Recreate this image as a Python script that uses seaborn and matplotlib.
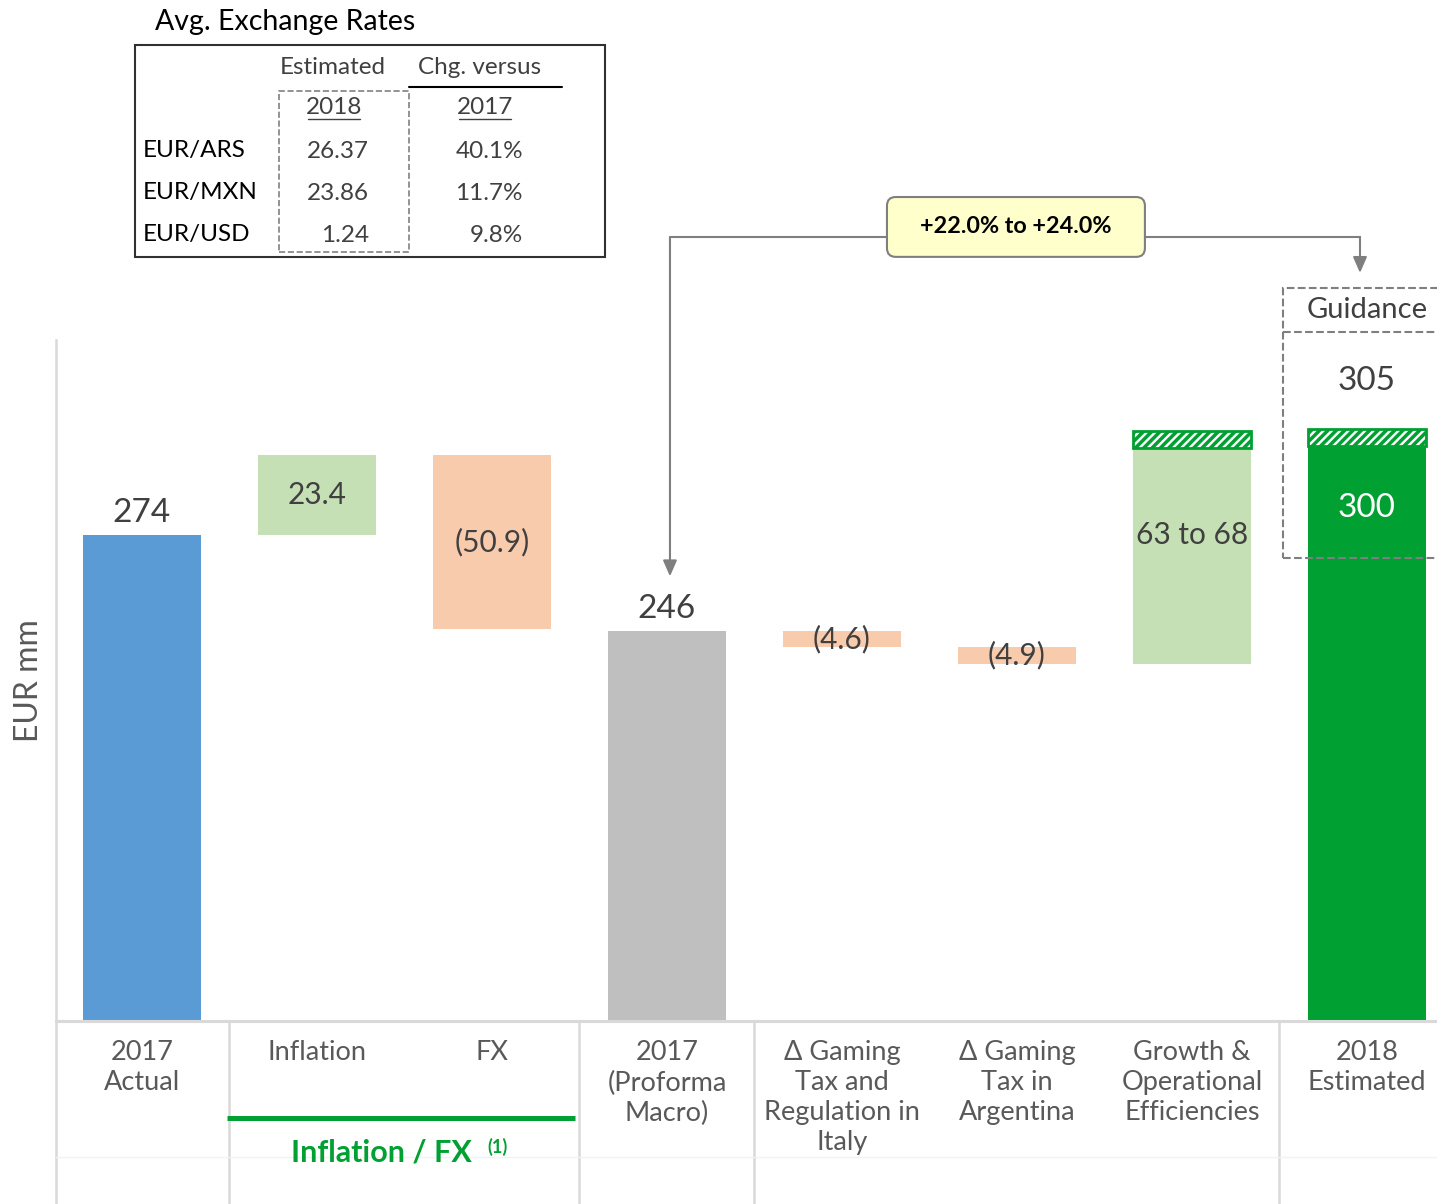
import numpy as np
import pandas as pd
import matplotlib.pyplot as plt
import matplotlib.patches as mpatches
from matplotlib.lines import Line2D
import seaborn as sns

#----------------------------------------------------------------------------------------------------------------
# data
#----------------------------------------------------------------------------------------------------------------
steps = ['2017\nActual', 'Inflation', 'FX', '2017\n(Proforma\nMacro)',
         'Δ Gaming\nTax and\nRegulation in\nItaly', 'Δ Gaming\nTax in\nArgentina',
         'Growth &\nOperational\nEfficiencies', '2018\nEstimated']
kinds = ['total', 'delta', 'delta', 'total', 'delta', 'delta', 'delta', 'total']
values = [274, 23.4, -50.9, 246, -4.6, -4.9, 63, 300]
upper = [np.nan, np.nan, np.nan, np.nan, np.nan, np.nan, 68, 305]   # top of guidance range
labels = ['274', '23.4', '(50.9)', '246', '(4.6)', '(4.9)', '63 to 68', '300']
bar_colors = ['#5B9BD5', '#C5E0B4', '#F8CBAD', '#BFBFBF',
              '#F8CBAD', '#F8CBAD', '#C5E0B4', '#00A032']
growth_label = '+22.0% to +24.0%'

fx_pairs = ['EUR/ARS', 'EUR/MXN', 'EUR/USD']
fx_2018 = ['26.37', '23.86', '1.24']
fx_chg = ['40.1%', '11.7%', '9.8%']

#----------------------------------------------------------------------------------------------------------------
sns.set_theme(style='white')
plt.rcParams['font.family'] = ['Lato', 'DejaVu Sans']
plt.rcParams['hatch.linewidth'] = 2.5

GREEN = '#00A032'
GRAY_TXT = '#595959'
DARK_TXT = '#404040'
LINE_GRAY = '#7F7F7F'
GRID_GRAY = '#D9D9D9'

W, H = 1437, 1204
base = 132  # axis floor (broken scale)

lo, hi = [], []
running = 0
for k, v in zip(kinds, values):
    if k == 'total':
        running = v
        lo.append(base)
        hi.append(v)
    else:
        lo.append(min(running, running + v))
        hi.append(max(running, running + v))
        running += v

df = pd.DataFrame({'step': steps, 'lo': lo, 'hi': hi, 'upper': upper, 'value': values})
df['cap'] = df['upper'] - df['value']

fig = plt.figure(figsize=(W / 100, H / 100), dpi=100)
ax = fig.add_axes([56 / W, 183 / H, (W - 56) / W, 1021 / H])

sns.barplot(data=df, x='step', y='hi', hue='step', palette=bar_colors, legend=False,
            width=0.67, saturation=1, linewidth=0, ax=ax)
for patch, l, h in zip(ax.patches, df['lo'], df['hi']):
    patch.set_y(l)
    patch.set_height(h - l)

# hatched caps for the guidance range
caps = df[df['cap'].notna()]
ax.bar(caps.index, caps['cap'], bottom=caps['hi'], width=0.67, color='white',
       edgecolor=GREEN, hatch='////', linewidth=2, zorder=3)

ax.set_xlim(-0.4914, 7.4)
ax.set_ylim(base, 430.5)
ax.set_xlabel('')
ax.set_ylabel('')
ax.set_yticks([])
ax.tick_params(axis='x', length=0, pad=14, labelsize=19.5, labelcolor=GRAY_TXT)
for t in ax.get_xticklabels():
    t.set_linespacing(1.25)

for s in ['top', 'right']:
    ax.spines[s].set_visible(False)
ax.spines['bottom'].set_color(GRID_GRAY)
ax.spines['bottom'].set_linewidth(2.2)
ax.spines['left'].set_color(GRID_GRAY)
ax.spines['left'].set_linewidth(1.8)
ax.spines['left'].set_bounds(base, 331)

# table grid below the axis
xt = ax.get_xaxis_transform()
ax.vlines([-0.4914, 0.5, 2.5, 3.5, 6.5], -0.18, 0, transform=xt, colors=GRID_GRAY,
          linewidth=1.8, clip_on=False)
ax.plot([-0.4914, 7.4], [-0.133, -0.133], transform=xt, color='#F2F2F2', lw=1, clip_on=False)

# Inflation / FX group
ax.plot([0.486, 2.474], [-0.095, -0.095], transform=xt, color=GREEN, lw=3.6,
        clip_on=False, solid_capstyle='butt')
ax.text(1.366, -0.129, 'Inflation / FX', transform=xt, ha='center', va='center',
        fontsize=22, fontweight='bold', color=GREEN)
ax.text(1.975, -0.123, '(1)', transform=xt, ha='left', va='center',
        fontsize=13, fontweight='bold', color=GREEN)

# value labels
for i, row in df.iterrows():
    if kinds[i] == 'total' and i < 7:
        ax.text(i, row['hi'] + 2, labels[i], ha='center', va='bottom', fontsize=24, color=DARK_TXT)
    elif i == 7:
        ax.text(i, row['hi'] - 18, labels[i], ha='center', va='center', fontsize=24, color='white')
        ax.text(i, row['upper'] + 14, f"{row['upper']:.0f}", ha='center', va='center',
                fontsize=24, color=DARK_TXT)
    else:
        mid = (row['lo'] + row['hi']) / 2
        if i == 6:
            mid += 6
        ax.text(i, mid, labels[i], ha='center', va='center', fontsize=21.5, color=DARK_TXT)

# guidance box
gx0 = 6.52
ax.add_patch(mpatches.Rectangle((gx0, 267.4), 1.2, 346.3 - 267.4, fill=False, ec=LINE_GRAY,
                                ls='--', lw=1.5, clip_on=False, zorder=4))
ax.plot([gx0, 7.72], [333.5, 333.5], color=LINE_GRAY, ls='--', lw=1.5, clip_on=False, zorder=4)
ax.text(7.0, 339.9, 'Guidance', ha='center', va='center', fontsize=21, color=DARK_TXT)

# growth connector
yc = 361.2
xl, xr = 3.017, 6.96
ax.plot([xl, xr], [yc, yc], color=LINE_GRAY, lw=1.5, zorder=2)
for x0, y1 in [(xl, 262), (xr, 350.7)]:
    ax.annotate('', xy=(x0, y1), xytext=(x0, yc),
                arrowprops=dict(arrowstyle='-|>,head_length=0.8,head_width=0.35',
                                color=LINE_GRAY, lw=1.5, shrinkA=0, shrinkB=0))
ax.add_patch(mpatches.FancyBboxPatch((4.257, 355.4), 5.731 - 4.257, 372.9 - 355.4,
                                     boxstyle='round,pad=0,rounding_size=0.05',
                                     mutation_aspect=175 / 3.42, fc='#FFFFCC',
                                     ec=LINE_GRAY, lw=1.5, zorder=5))
ax.text(4.994, 364.2, growth_label, ha='center', va='center', fontsize=16.8,
        fontweight='bold', color='black', zorder=6)

# y label
fig.text(29 / W, 1 - 681 / H, 'EUR mm', rotation=90, ha='center', va='center',
         fontsize=23, color=GRAY_TXT)

#----------------------------------------------------------------------------------------------------------------
# exchange rate table (figure pixel coords)
def fx(x):
    return x / W

def fy(y):
    return 1 - y / H

TS = 17.5
fig.text(fx(155), fy(22), 'Avg. Exchange Rates', ha='left', va='center', fontsize=20.5, color='black')
fig.add_artist(mpatches.Rectangle((fx(135), fy(257)), fx(605) - fx(135), fy(45) - fy(257),
                                  transform=fig.transFigure, fill=False, ec='#303030', lw=1.5))
fig.add_artist(mpatches.Rectangle((fx(279), fy(252)), fx(409) - fx(279), fy(91) - fy(252),
                                  transform=fig.transFigure, fill=False, ec='#808080', lw=1.2, ls='--'))
fig.text(fx(333), fy(67), 'Estimated', ha='center', va='center', fontsize=TS, color=DARK_TXT)
fig.text(fx(480), fy(67), 'Chg. versus', ha='center', va='center', fontsize=TS, color=DARK_TXT)
fig.add_artist(Line2D([fx(409), fx(562)], [fy(87), fy(87)], transform=fig.transFigure,
                      color='black', lw=1.5))
fig.text(fx(334), fy(108), '2018', ha='center', va='center', fontsize=TS, color=DARK_TXT)
fig.text(fx(485), fy(108), '2017', ha='center', va='center', fontsize=TS, color=DARK_TXT)
fig.add_artist(Line2D([fx(308), fx(360)], [fy(119), fy(119)], transform=fig.transFigure,
                      color=DARK_TXT, lw=1))
fig.add_artist(Line2D([fx(459), fx(511)], [fy(119), fy(119)], transform=fig.transFigure,
                      color=DARK_TXT, lw=1))
for k, (pair, rate, chg) in enumerate(zip(fx_pairs, fx_2018, fx_chg)):
    yy = fy(151 + 42 * k)
    fig.text(fx(143), yy, pair, ha='left', va='center', fontsize=TS, color='black')
    fig.text(fx(369), yy, rate, ha='right', va='center', fontsize=TS, color=DARK_TXT)
    fig.text(fx(523), yy, chg, ha='right', va='center', fontsize=TS, color=DARK_TXT)

plt.savefig('out.png', dpi=100)
plt.close()
